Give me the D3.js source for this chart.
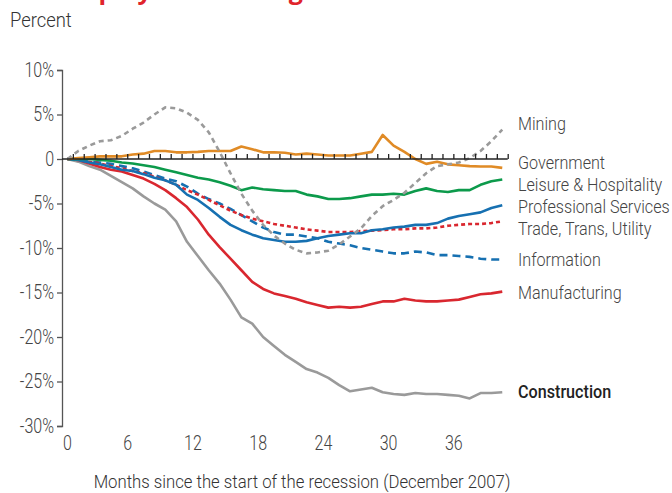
<!DOCTYPE html>
<html>
<head>
<meta charset="utf-8">
<script src="https://cdn.jsdelivr.net/npm/d3@7"></script>
<style>
  body { margin: 0; background: #fff; }
  svg { display: block; font-family: Roboto, 'Noto Sans', sans-serif; font-weight: 300; }
</style>
</head>
<body>
<figure style="margin:0"></figure>
<script>
const width = 672
const height = 493

// months since Dec 2007, one value per month (percent change in employment)
const mining = [0, 0.9, 1.5, 2.0, 2.1, 2.6, 3.4, 4.1, 5.0, 5.8, 5.7, 5.2, 4.4, 3.0, 0.8, -1.6, -3.9, -5.8, -7.4, -8.6, -9.5, -10.2, -10.6, -10.5, -10.3, -9.6, -8.7, -7.8, -6.4, -5.3, -4.6, -3.8, -2.7, -1.6, -0.8, -0.6, -0.4, 0.1, 0.9, 2.0, 3.3]
const government = [0, 0.1, 0.2, 0.3, 0.3, 0.3, 0.5, 0.6, 0.9, 0.9, 0.75, 0.75, 0.8, 0.9, 0.9, 0.9, 1.4, 1.1, 0.75, 0.75, 0.7, 0.5, 0.6, 0.5, 0.4, 0.4, 0.4, 0.6, 0.8, 2.7, 1.5, 0.8, 0, -0.55, -0.3, -0.6, -0.7, -0.8, -0.85, -0.85, -1.0]
const leisure = [0, 0, 0, -0.1, -0.2, -0.4, -0.5, -0.7, -0.9, -1.2, -1.5, -1.8, -2.1, -2.3, -2.6, -3.0, -3.5, -3.2, -3.4, -3.5, -3.6, -3.6, -4.0, -4.2, -4.5, -4.5, -4.4, -4.2, -4.0, -4.0, -3.9, -4.0, -3.6, -3.3, -3.6, -3.7, -3.5, -3.5, -2.9, -2.5, -2.3]
const professional = [0, -0.1, -0.4, -0.6, -0.9, -1.2, -1.35, -1.7, -2.1, -2.4, -2.9, -4.0, -4.6, -5.5, -6.5, -7.4, -8.0, -8.5, -8.9, -9.1, -9.3, -9.3, -9.2, -8.9, -8.65, -8.5, -8.35, -8.35, -8.0, -7.9, -7.7, -7.6, -7.4, -7.4, -7.2, -6.7, -6.4, -6.2, -6.0, -5.5, -5.2]
const trade = [0, -0.1, -0.3, -0.5, -0.8, -1.05, -1.35, -1.6, -2.0, -2.4, -2.9, -3.5, -4.0, -4.6, -5.2, -5.8, -6.3, -6.7, -7.0, -7.3, -7.5, -7.7, -7.9, -8.05, -8.2, -8.2, -8.2, -8.1, -8.05, -8.0, -7.9, -7.9, -7.8, -7.8, -7.7, -7.5, -7.4, -7.3, -7.3, -7.2, -7.0]
const information = [0, -0.1, -0.3, -0.4, -0.55, -0.8, -1.05, -1.4, -1.8, -2.2, -2.5, -3.1, -3.9, -4.5, -5.0, -5.6, -6.3, -7.0, -7.7, -8.2, -8.5, -8.5, -8.7, -8.9, -9.3, -9.5, -9.7, -10.0, -10.2, -10.4, -10.6, -10.6, -10.4, -10.5, -10.8, -10.8, -10.9, -11.0, -11.2, -11.3, -11.3]
const manufacturing = [0, -0.1, -0.5, -0.9, -1.2, -1.4, -1.8, -2.2, -2.8, -3.5, -4.4, -5.4, -6.8, -8.5, -9.9, -11.2, -12.5, -13.8, -14.6, -15.1, -15.4, -15.7, -16.1, -16.4, -16.7, -16.6, -16.7, -16.6, -16.3, -16.0, -16.0, -15.7, -15.9, -16.0, -16.0, -15.9, -15.8, -15.5, -15.2, -15.1, -14.9]
const construction = [0, -0.3, -0.8, -1.2, -1.9, -2.6, -3.3, -4.2, -5.0, -5.7, -7.0, -9.3, -10.9, -12.5, -14.0, -15.8, -17.8, -18.5, -20.0, -21.0, -22.0, -22.8, -23.6, -24.0, -24.6, -25.4, -26.1, -25.9, -25.7, -26.2, -26.4, -26.5, -26.3, -26.4, -26.4, -26.5, -26.6, -26.9, -26.3, -26.3, -26.2]

const seriesNames = ['Mining', 'Government', 'Leisure & Hospitality', 'Professional Services', 'Trade, Trans, Utility', 'Information', 'Manufacturing', 'Construction']
const seriesValues = [mining, government, leisure, professional, trade, information, manufacturing, construction]
const seriesColors = ['#9a9a9a', '#e08b26', '#0c9a4b', '#1670b1', '#d9272f', '#1670b1', '#d9272f', '#9a9a9a']
const seriesDash = ['5,4', null, null, null, '4,3', '8,5', null, null]
// where each name sits, in percent units
const labelAt = [4.0, -0.4, -2.8, -5.3, -7.8, -11.3, -15.0, -26.1]

const yTicks = [10, 5, 0, -5, -10, -15, -20, -25, -30]
const xTicks = [0, 6, 12, 18, 24, 30, 36]

const svg = d3.select('figure').append('svg')
  .attr('width', width)
  .attr('height', height)

const x = d3.scaleLinear().domain([0, 41]).range([62, 507.7])
const y = d3.scaleLinear().domain([-30, 10]).range([426, 70])

// the source face is a narrow one, so squeeze the text a bit
const condense = (sel, k) => {
  sel.each(function () {
    const w = this.getComputedTextLength()
    d3.select(this).attr('textLength', w * k).attr('lengthAdjust', 'spacingAndGlyphs')
  })
}

// cut-off title at the very top
svg.append('text')
  .attr('x', 60)
  .attr('y', -1)
  .attr('fill', '#e0242b')
  .style('font-family', "'Open Sans', sans-serif")
  .style('font-weight', 'bold')
  .style('font-size', '25px')
  .text('Employment Change')

svg.append('text')
  .attr('x', 10)
  .attr('y', 27)
  .attr('fill', '#333')
  .style('font-size', '20px')
  .text('Percent')
  .call(condense, 0.92)

// y axis
const yAxis = svg.append('g')
  .attr('transform', `translate(${x(0)},0)`)
  .call(d3.axisLeft(y).tickValues(yTicks).tickSize(5).tickPadding(3)
    .tickFormat(d => d === 0 ? '0' : d + '%'))
yAxis.selectAll('path, line').attr('stroke', '#555').attr('stroke-width', 1.3)
yAxis.selectAll('text').attr('fill', '#444')
  .style('font-size', '20px').style('font-family', 'Roboto').style('font-weight', 300)
  .call(condense, 0.8)

// x tick labels along the bottom
const xAxis = svg.append('g')
  .attr('transform', `translate(0,${y(-30)})`)
  .call(d3.axisBottom(x).tickValues(xTicks).tickSize(0).tickPadding(10))
xAxis.select('.domain').remove()
xAxis.selectAll('text').attr('fill', '#444')
  .style('font-size', '20px').style('font-family', 'Roboto').style('font-weight', 300)
  .attr('dx', d => d === 0 ? 5 : 0)
  .call(condense, 0.8)

svg.append('text')
  .attr('x', 302)
  .attr('y', 488)
  .attr('text-anchor', 'middle')
  .attr('fill', '#333')
  .style('font-size', '19px')
  .text('Months since the start of the recession (December 2007)')
  .call(condense, 0.88)

const line = d3.line()
  .x((d, i) => x(i + 0.5))
  .y(d => y(d))

const order = [7, 6, 5, 4, 3, 2, 1, 0]
svg.append('g').selectAll('path')
  .data(order)
  .join('path')
  .attr('d', k => line(seriesValues[k]))
  .attr('fill', 'none')
  .attr('stroke', k => seriesColors[k])
  .attr('stroke-width', 2.6)
  .attr('stroke-linejoin', 'round')
  .attr('stroke-dasharray', k => seriesDash[k])

// zero line with a tick for every month
const zero = svg.append('g')
  .attr('transform', `translate(0,${y(0)})`)
  .call(d3.axisTop(x).tickValues(d3.range(1, 42)).tickSize(5).tickFormat(''))
zero.selectAll('path, line').attr('stroke', '#222').attr('stroke-width', 1.3)
zero.select('.domain').attr('d', `M${x(0)},0H${x(41)}`)

svg.append('g').selectAll('text')
  .data(seriesNames)
  .join('text')
  .attr('x', 518)
  .attr('y', (d, i) => y(labelAt[i]))
  .attr('dy', '0.35em')
  .attr('fill', (d, i) => i === 7 ? '#222' : '#444')
  .style('font-size', '19px')
  .style('font-weight', (d, i) => i === 7 ? 500 : 300)
  .text(d => d)
  .call(condense, 0.85)
</script>
</body>
</html>
